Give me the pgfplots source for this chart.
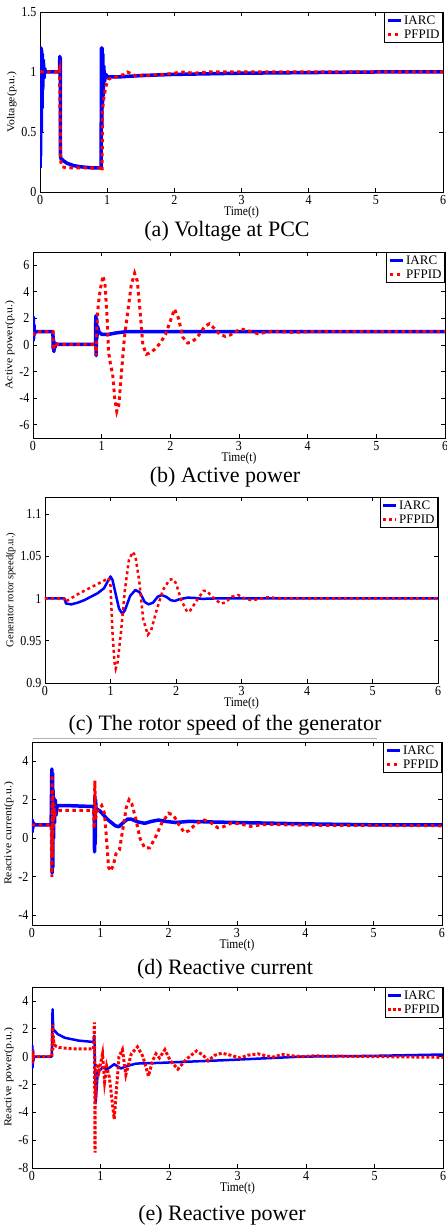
\documentclass[border=0pt]{standalone}
\usepackage{pgfplots}
\pgfplotsset{compat=1.18}
\usepackage{fontspec}
\setmainfont{Liberation Serif}
\usepackage{graphicx}
\pgfplotsset{
  panel/.style={
    scale only axis, anchor=south west,
    xmin=0, xmax=6, xtick={0,1,2,3,4,5,6},
    tick align=inside, major tick length=4pt,
    axis line style={line width=0.9pt},
    every tick/.style={black, line width=0.8pt},
    xticklabel={\scalebox{1}[1.15]{\pgfmathprintnumber[assume math mode=true]{\tick}}},
    yticklabel={\scalebox{1}[1.15]{\pgfmathprintnumber[assume math mode=true]{\tick}}},
    tick label style={font=\fontsize{12}{12}\selectfont},
    xlabel={\scalebox{1}[1.15]{Time(t)}},
    xlabel style={font=\fontsize{11.5}{12}\selectfont, yshift=5pt},
    ylabel style={font=\fontsize{10.5}{11}\selectfont, yshift=-2pt},
    legend style={at={(1,1)}, anchor=north east, draw=black, line width=0.9pt,
      font=\fontsize{13}{13}\selectfont, inner sep=1.5pt, row sep=1pt,
      nodes={inner sep=1.5pt}},
    legend cell align=left,
    legend image code/.code={\draw[#1] (0pt,0pt) -- (13pt,0pt);},
  },
  iarc/.style={blue, line width=3pt, line join=round},
  pfpid/.style={red, line width=3pt, dash pattern=on 3.5pt off 3.5pt},
}
\begin{document}
\begin{tikzpicture}
\useasboundingbox (0,0) rectangle (447pt,1227pt);
% (a) Voltage at PCC
\begin{axis}[panel, at={(40pt,1035pt)}, width=403pt, height=180pt,
  ymin=0, ymax=1.5, ytick={0,0.5,1,1.5},
  ylabel={\scalebox{1.12}[1]{Voltage(p.u.)}}]
\addplot[iarc, line width=3.5pt] coordinates {
(0,0.2) (0.005,1.2) (0.01,0.3) (0.015,1.2) (0.02,0.5) (0.025,1.18) (0.03,0.7) (0.035,1.15) (0.04,0.85) (0.05,1.1) (0.06,0.95) (0.07,1.03) (0.08,1.0)
(0.29,1.0) (0.295,1.13) (0.30,0.95) (0.302,1.12) (0.305,0.3) (0.31,0.28) (0.35,0.26) (0.4,0.24) (0.5,0.22) (0.6,0.21) (0.7,0.205) (0.8,0.2) (0.91,0.2)
(0.915,1.2) (0.92,0.55) (0.925,1.2) (0.93,0.7) (0.935,1.15) (0.94,0.8) (0.95,1.05) (0.96,0.92) (0.98,0.98) (1.0,0.96) (1.2,0.96) (1.5,0.97) (2.0,0.98) (2.5,0.985) (3,0.99) (4,0.995) (5,1.0) (6,1.0)};
\addlegendentry{IARC}
\addplot[pfpid] coordinates {
(0,1.0) (0.28,1.0) (0.29,1.02) (0.30,0.6) (0.31,0.25) (0.33,0.21) (0.4,0.2) (0.92,0.2) (0.925,0.18) (0.93,0.68) (0.95,0.78) (0.98,0.88) (1.02,0.94) (1.06,0.95) (1.15,0.96) (1.25,0.98) (1.3,1.0) (1.38,0.98) (1.45,0.96) (1.55,0.98) (1.62,0.97) (1.75,0.98) (1.85,0.98) (2.0,0.99) (2.1,1.0) (2.3,0.99) (2.5,1.0) (3,1.0) (4,1.0) (6,1.0)};
\addlegendentry{PFPID}
\end{axis}
\node[font=\fontsize{22}{22}\selectfont] at (227pt,996pt) {(a) Voltage at PCC};
% (b) Active power
\begin{axis}[panel, at={(33pt,789pt)}, width=412pt, height=186pt,
  ymin=-7, ymax=7, ytick={-6,-4,-2,0,2,4,6},
  ylabel={\scalebox{1.12}[1]{Active power(p.u.)}}]
\addplot[iarc, line width=3.5pt] coordinates {
(0,0.3) (0.005,2.1) (0.01,0.5) (0.015,1.5) (0.02,0.8) (0.03,1.0) (0.29,1.0) (0.295,-0.3) (0.30,0.4) (0.305,-0.5) (0.31,0.2) (0.32,-0.2) (0.33,0.1) (0.35,0.05) (0.91,0.05)
(0.915,2.2) (0.92,-0.8) (0.925,2.0) (0.93,0.5) (0.94,1.4) (0.96,1.0) (1.0,0.8) (1.1,0.8) (1.2,0.9) (1.35,1.0) (6,1.0)};
\addlegendentry{IARC}
\addplot[pfpid] coordinates {
(0,0.7) (0.02,0.9) (0.05,1.0) (0.29,1.0) (0.30,-0.4) (0.31,0.1) (0.33,0.0) (0.35,0.05) (0.91,0.05) (0.92,-0.8) (0.93,1.5) (0.95,3.0) (0.98,4.2) (1.02,5.2) (1.05,4.5) (1.08,2.0) (1.1,-0.5) (1.13,-1.5) (1.16,-2.2) (1.19,-4.0) (1.22,-5.0) (1.25,-4.5) (1.29,-2.0) (1.33,0.5) (1.38,2.5) (1.43,4.5) (1.48,5.4) (1.52,4.8) (1.56,2.5) (1.6,0.0) (1.65,-0.7) (1.7,-0.6) (1.78,-0.3) (1.86,0.2) (1.93,0.8) (2.0,1.8) (2.06,2.7) (2.12,2.0) (2.18,0.6) (2.25,0.15) (2.3,0.2) (2.38,0.5) (2.45,1.0) (2.5,1.4) (2.57,1.6) (2.63,1.3) (2.72,0.8) (2.8,0.65) (2.87,0.75) (2.95,1.0) (3.03,1.2) (3.12,1.1) (3.2,0.95) (3.28,0.85) (3.4,0.95) (3.5,1.05) (3.6,1.0) (3.8,0.95) (4,1.0) (6,1.0)};
\addlegendentry{PFPID}
\end{axis}
\node[font=\fontsize{22}{22}\selectfont] at (225pt,750pt) {(b) Active power};
% (c) Rotor speed
\begin{axis}[panel, at={(45pt,544pt)}, width=393pt, height=186pt,
  ymin=0.9, ymax=1.12, ytick={0.9,0.95,1,1.05,1.1},
  ylabel={\scalebox{1}[1]{Generator rotor speed(p.u.)}}]
\addplot[iarc, line width=2.5pt] coordinates {
(0,1.0) (0.3,1.0) (0.32,0.994) (0.4,0.993) (0.5,0.995) (0.6,0.998) (0.7,1.002) (0.8,1.006) (0.9,1.012) (0.95,1.019) (1.0,1.026) (1.03,1.022) (1.08,1.005) (1.13,0.988) (1.18,0.982) (1.22,0.986) (1.3,1.003) (1.38,1.01) (1.45,1.007) (1.52,0.996) (1.58,0.993) (1.65,0.995) (1.72,1.002) (1.78,1.004) (1.85,1.002) (1.92,0.998) (1.98,0.997) (2.05,0.999) (2.18,1.001) (2.3,1.0005) (2.4,0.9995) (2.6,1.0) (6,1.0)};
\addlegendentry{IARC}
\addplot[pfpid, line width=2.5pt, dash pattern=on 3pt off 3pt] coordinates {
(0,1.0) (0.29,1.0) (0.31,0.996) (0.35,0.998) (0.5,1.005) (0.7,1.013) (0.9,1.021) (0.97,1.024) (1.0,1.015) (1.03,0.96) (1.06,0.925) (1.08,0.917) (1.11,0.925) (1.16,0.96) (1.22,1.01) (1.28,1.045) (1.34,1.055) (1.38,1.05) (1.44,1.02) (1.5,0.975) (1.57,0.957) (1.62,0.962) (1.7,0.985) (1.8,1.01) (1.9,1.022) (1.95,1.023) (2.0,1.018) (2.08,0.998) (2.17,0.984) (2.22,0.986) (2.32,0.998) (2.42,1.009) (2.47,1.009) (2.55,1.002) (2.68,0.994) (2.75,0.995) (2.85,1.002) (2.95,1.004) (3.05,1.0) (3.15,0.998) (3.25,0.999) (3.4,1.0015) (3.6,1.0) (6,1.0)};
\addlegendentry{PFPID}
\end{axis}
\node[font=\fontsize{22}{22}\selectfont] at (225pt,502pt) {(c) The rotor speed of the generator};
\draw[gray!60, line width=0.6pt] (33pt,489pt) -- (377pt,489pt);
% (d) Reactive current
\begin{axis}[panel, at={(32pt,302pt)}, width=410pt, height=183pt,
  ymin=-4.5, ymax=5, ytick={-4,-2,0,2,4},
  ylabel={\scalebox{1.12}[1]{Reactive current(p.u.)}}]
\addplot[iarc, line width=3.5pt] coordinates {
(0,0.3) (0.005,0.95) (0.01,0.5) (0.02,0.8) (0.04,0.7) (0.28,0.7) (0.29,3.6) (0.295,-1.8) (0.30,3.4) (0.305,-1.5) (0.31,2.5) (0.315,0.0) (0.32,2.1) (0.33,0.8) (0.34,2.0) (0.35,1.2) (0.37,1.7) (0.5,1.7) (0.9,1.65) (0.91,1.65)
(0.915,-0.7) (0.92,2.2) (0.925,-0.3) (0.93,2.0) (0.94,1.4) (0.96,1.5) (1.0,1.4) (1.05,1.2) (1.1,1.0) (1.15,0.85) (1.22,0.65) (1.27,0.6) (1.33,0.8) (1.4,1.0) (1.45,1.0) (1.55,0.85) (1.65,0.78) (1.75,0.88) (1.85,0.95) (1.95,0.88) (2.1,0.82) (2.3,0.88) (2.6,0.85) (3,0.82) (4,0.75) (5,0.7) (6,0.7)};
\addlegendentry{IARC}
\addplot[pfpid] coordinates {
(0,0.7) (0.28,0.7) (0.29,-2.0) (0.295,3.3) (0.30,-1.0) (0.305,2.5) (0.31,0.3) (0.32,1.8) (0.33,1.2) (0.35,1.4) (0.4,1.45) (0.9,1.45) (0.91,0.5) (0.92,3.0) (0.93,1.0) (0.95,1.4) (0.98,1.5) (1.02,1.7) (1.06,1.3) (1.09,0.0) (1.12,-1.5) (1.15,-1.7) (1.19,-1.4) (1.23,-0.8) (1.28,-0.6) (1.33,0.5) (1.38,1.6) (1.42,2.0) (1.46,1.8) (1.52,1.0) (1.58,0.0) (1.65,-0.5) (1.72,-0.5) (1.8,0.0) (1.9,0.8) (2.0,1.3) (2.07,1.2) (2.15,0.7) (2.23,0.3) (2.3,0.4) (2.4,0.75) (2.52,0.95) (2.62,0.8) (2.72,0.55) (2.8,0.6) (2.92,0.8) (3.05,0.75) (3.2,0.62) (3.35,0.7) (3.5,0.72) (4,0.68) (5,0.67) (6,0.65)};
\addlegendentry{PFPID}
\end{axis}
\node[font=\fontsize{22}{22}\selectfont] at (225pt,258pt) {(d) Reactive current};
% (e) Reactive power
\begin{axis}[panel, at={(32pt,59pt)}, width=411pt, height=181pt,
  ymin=-8, ymax=5, ytick={-8,-6,-4,-2,0,2,4},
  ylabel={\scalebox{1.12}[1]{Reactive power(p.u.)}}]
\addplot[iarc, line width=2.5pt] coordinates {
(0,0) (0.005,0.8) (0.01,-0.8) (0.015,0.5) (0.02,-0.3) (0.03,0) (0.29,0) (0.30,3.4) (0.31,2.0) (0.32,1.9) (0.38,1.6) (0.48,1.35) (0.68,1.15) (0.9,1.05) (0.91,1.5)
(0.93,-3.3) (0.96,-1.1) (1.03,-0.8) (1.1,-0.9) (1.2,-0.55) (1.3,-0.85) (1.37,-0.7) (1.52,-0.5) (1.87,-0.45) (2.1,-0.4) (2.85,-0.25) (3.5,-0.1) (3.95,0.0) (4.94,0.05) (6,0.15)};
\addlegendentry{IARC}
\addplot[pfpid, line width=3pt, dash pattern=on 3pt off 2pt] coordinates {
(0,0) (0.005,0.5) (0.01,-0.5) (0.015,0.3) (0.02,0) (0.29,0) (0.30,2.3) (0.305,0.5) (0.31,1.5) (0.32,0.9) (0.35,0.75) (0.4,0.65) (0.6,0.55) (0.9,0.55) (0.91,2.45) (0.915,-1.0) (0.92,-6.9) (0.925,-2.0) (0.93,-3.0) (0.94,-1.0) (0.96,-0.5) (0.98,-1.0) (1.03,0.2) (1.06,-1.8) (1.09,-0.7) (1.13,-1.5) (1.2,-4.5) (1.27,0.0) (1.32,0.5) (1.37,-1.3) (1.45,0.2) (1.54,0.7) (1.62,0.0) (1.7,-1.4) (1.76,-0.3) (1.81,0.2) (1.86,-0.1) (1.94,0.5) (2.02,-0.3) (2.13,-0.9) (2.25,-0.2) (2.4,0.4) (2.5,0.1) (2.57,-0.3) (2.67,0.1) (2.77,0.25) (2.9,0.1) (3.04,-0.1) (3.15,0.1) (3.3,0.2) (3.5,-0.05) (3.66,0.15) (3.8,0.05) (3.95,0.0) (4.1,0.05) (5,0.0) (6,-0.05)};
\addlegendentry{PFPID}
\end{axis}
\node[font=\fontsize{22}{22}\selectfont] at (222pt,12pt) {(e) Reactive power};
\end{tikzpicture}
\end{document}
